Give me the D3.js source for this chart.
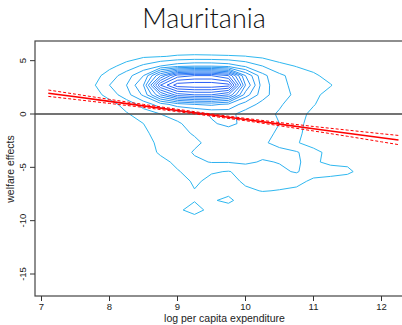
<!DOCTYPE html>
<html><head><meta charset="utf-8">
<script src="https://cdn.jsdelivr.net/npm/d3@7"></script>
<style>
html,body{margin:0;padding:0;background:#fff;}
svg{display:block;}
</style></head>
<body>
<svg id="chart" width="402" height="325"></svg>
<script>
const chartTitle = "Mauritania";
const xLabel = "log per capita expenditure";
const yLabel = "welfare effects";
const xTicks = [7, 8, 9, 10, 11, 12];
const yTicks = [5, 0, -5, -10, -15];

// Bivariate density estimate on a regular grid (rows run from top to bottom)
const gridX = [7.0, 7.25, 7.5, 7.75, 8.0, 8.25, 8.5, 8.75, 9.0, 9.25, 9.5, 9.75, 10.0, 10.25, 10.5, 10.75, 11.0, 11.25, 11.5, 11.75, 12.0, 12.25];
const gridY = [6.3, 5.4, 4.5, 3.6, 2.7, 1.8, 0.9, 0, -0.9, -1.8, -2.7, -3.6, -4.5, -5.4, -6.3, -7.2, -8.1, -9.0, -9.9];
const density = [
  [0,0,0,0,0,0,0.3,0.3,0.3,0.3,0.3,0.3,0.3,0.3,0,0,0,0,0,0,0,0],
  [0,0,0,0,0,0.5,0.85,0.95,1.1,1.15,1.12,1.08,1.02,0.8,0.5,0.3,0.1,0,0,0,0,0],
  [0,0,0,0,0.7,1.4,2.2,3.0,3.6,3.9,3.9,3.6,2.8,2.0,1.3,0.95,0.7,0.4,0.1,0,0,0],
  [0,0,0,0.5,1.5,2.5,4.0,8.0,11.5,12.0,12.0,11.0,6.0,3.3,2.2,1.6,1.15,0.7,0.3,0,0,0],
  [0,0,0,0.8,2.0,3.0,5.0,12.0,14.6,14.8,14.8,14.4,7.0,3.5,2.3,1.7,1.35,1.05,0.5,0.1,0,0],
  [0,0,0,0.5,1.4,2.6,4.2,8.0,10.5,11.0,11.0,10.0,5.5,3.4,2.4,1.8,1.2,0.7,0.2,0,0,0],
  [0,0,0,0,0.6,1.4,2.4,3.5,4.5,5.0,5.2,4.8,3.5,2.7,2.1,1.6,1.05,0.6,0.1,0,0,0],
  [0,0,0,0,0,0.9,1.5,2.0,2.3,2.6,3.1,3.3,2.6,2.3,1.9,1.3,0.8,0.3,0,0,0,0],
  [0,0,0,0,0,0.3,1.0,1.5,1.9,2.3,2.9,3.2,2.8,2.4,2.0,1.3,0.6,0.2,0,0,0,0],
  [0,0,0,0,0,0.1,0.8,1.4,1.7,2.1,2.5,2.6,2.4,2.2,1.9,1.2,0.6,0.1,0,0,0,0],
  [0,0,0,0,0,0,0.5,1.3,1.5,1.8,2.3,2.4,2.3,2.1,1.8,1.1,0.5,0,0,0,0,0],
  [0,0,0,0,0,0,0.3,1.2,1.5,2.1,2.3,2.3,2.2,2.3,2.2,2.1,1.4,0.6,0.2,0,0,0],
  [0,0,0,0,0,0,0,0.6,1.3,1.8,2.05,2.05,2.2,1.9,2.05,2.3,1.1,0.85,0.8,0.3,0,0],
  [0,0,0,0,0,0,0,0.2,0.9,1.5,1.1,0.95,1.3,1.6,1.8,2.1,1.4,1.3,1.2,0.6,0,0],
  [0,0,0,0,0,0,0,0,0.4,1.2,0.7,0.6,1.2,1.4,1.4,1.3,0.8,0.7,0.5,0.2,0,0],
  [0,0,0,0,0,0,0,0,0.2,0.95,0.4,0.6,0.8,1.05,0.95,0.8,0.4,0.2,0,0,0,0],
  [0,0,0,0,0,0,0,0,0.5,0.9,0.85,1.3,0.3,0.3,0.2,0,0,0,0,0,0,0],
  [0,0,0,0,0,0,0,0,0.7,1.6,0.5,0.3,0,0,0,0,0,0,0,0,0,0],
  [0,0,0,0,0,0,0,0,0,0.3,0,0,0,0,0,0,0,0,0,0,0,0]
];
const contourLevels = [1, 2, 3, 4, 5, 6, 7, 8, 9, 10, 11, 12, 13, 14];

// Linear fit of welfare effects on log expenditure, with confidence band
const fitX     = [7.1, 7.5, 8.0, 8.5, 9.0, 9.5, 10.0, 10.5, 11.0, 11.5, 12.0, 12.25];
const fitY     = [1.95, 1.61, 1.18, 0.76, 0.33, -0.10, -0.52, -0.95, -1.38, -1.80, -2.23, -2.44];
const fitLower = [1.65, 1.36, 0.99, 0.62, 0.22, -0.20, -0.63, -1.10, -1.59, -2.09, -2.61, -2.87];
const fitUpper = [2.25, 1.86, 1.37, 0.90, 0.44, 0.00, -0.41, -0.80, -1.17, -1.51, -1.85, -2.01];

const svg = d3.select("#chart");
const plot = { left: 35, top: 41, right: 414, bottom: 296 };

const x = d3.scaleLinear().domain([7, 12]).range([41.5, 381.5]);
const y = d3.scaleLinear().domain([0, -15]).range([114, 274]);

svg.append("defs").append("clipPath").attr("id", "plotClip")
  .append("rect").attr("x", plot.left).attr("y", plot.top)
  .attr("width", plot.right - plot.left).attr("height", plot.bottom - plot.top);

const body = svg.append("g").attr("clip-path", "url(#plotClip)");

// Contour lines of the density surface
const nx = gridX.length, ny = gridY.length;
const contours = d3.contours().size([nx, ny]).thresholds(contourLevels)(density.flat());
const colToX = d3.scaleLinear().domain([0, nx - 1]).range([gridX[0], gridX[nx - 1]]);
const rowToY = d3.scaleLinear().domain([0, ny - 1]).range([gridY[0], gridY[ny - 1]]);
const gridPath = d3.geoPath(d3.geoTransform({
  point(cx, cy) { this.stream.point(x(colToX(cx - 0.5)), y(rowToY(cy - 0.5))); }
}));
const levelColor = d3.scaleLinear()
  .domain([contourLevels[0], contourLevels[contourLevels.length - 1]])
  .range(["#2fb8f0", "#2a5ef6"])
  .interpolate(d3.interpolateRgb);

body.append("g").selectAll("path").data(contours).join("path")
  .attr("d", gridPath)
  .attr("fill", "none")
  .attr("stroke", d => levelColor(d.value))
  .attr("stroke-width", 1)
  .attr("stroke-linejoin", "round");

// Reference line at zero
body.append("line")
  .attr("x1", plot.left).attr("x2", plot.right)
  .attr("y1", y(0)).attr("y2", y(0))
  .attr("stroke", "#444").attr("stroke-width", 1.4);

// Fitted line and confidence band
const band = (vals) => d3.line().x((d, i) => x(fitX[i])).y(d => y(d))(vals);
body.append("path").attr("d", band(fitLower)).attr("fill", "none")
  .attr("stroke", "#ff0000").attr("stroke-width", 1).attr("stroke-dasharray", "3,2");
body.append("path").attr("d", band(fitUpper)).attr("fill", "none")
  .attr("stroke", "#ff0000").attr("stroke-width", 1).attr("stroke-dasharray", "3,2");
body.append("path").attr("d", band(fitY)).attr("fill", "none")
  .attr("stroke", "#ff0000").attr("stroke-width", 1.6);

// Frame
svg.append("rect")
  .attr("x", plot.left).attr("y", plot.top)
  .attr("width", plot.right - plot.left).attr("height", plot.bottom - plot.top)
  .attr("fill", "none").attr("stroke", "#444").attr("stroke-width", 1.2);

const axisFont = "'Liberation Sans', Arial, Helvetica, sans-serif";

// x axis
const xAxis = svg.append("g");
xAxis.selectAll("line").data(xTicks).join("line")
  .attr("x1", d => x(d)).attr("x2", d => x(d))
  .attr("y1", plot.bottom).attr("y2", plot.bottom + 5)
  .attr("stroke", "#333").attr("stroke-width", 1);
xAxis.selectAll("text").data(xTicks).join("text")
  .attr("x", d => x(d)).attr("y", 309.5)
  .attr("text-anchor", "middle")
  .attr("font-family", axisFont).attr("font-size", 9.5).attr("fill", "#222")
  .text(d => d);
svg.append("text")
  .attr("x", 224.5).attr("y", 322)
  .attr("text-anchor", "middle")
  .attr("font-family", axisFont).attr("font-size", 10.5).attr("fill", "#222")
  .text(xLabel);

// y axis
const yAxis = svg.append("g");
yAxis.selectAll("line").data(yTicks).join("line")
  .attr("x1", plot.left - 5).attr("x2", plot.left)
  .attr("y1", d => y(d)).attr("y2", d => y(d))
  .attr("stroke", "#333").attr("stroke-width", 1);
yAxis.selectAll("text").data(yTicks).join("text")
  .attr("transform", d => `translate(26,${y(d)}) rotate(-90)`)
  .attr("text-anchor", "middle")
  .attr("font-family", axisFont).attr("font-size", 9.5).attr("fill", "#222")
  .text(d => d);
svg.append("text")
  .attr("transform", "translate(14,169) rotate(-90)")
  .attr("text-anchor", "middle")
  .attr("font-family", axisFont).attr("font-size", 10.5).attr("fill", "#222")
  .text(yLabel);

// Title
svg.append("text")
  .attr("x", 204).attr("y", 28)
  .attr("text-anchor", "middle")
  .attr("font-family", "Lato, 'DejaVu Sans', sans-serif").attr("font-weight", 300)
  .attr("font-size", 27).attr("fill", "#111")
  .text(chartTitle);
</script>
</body></html>
